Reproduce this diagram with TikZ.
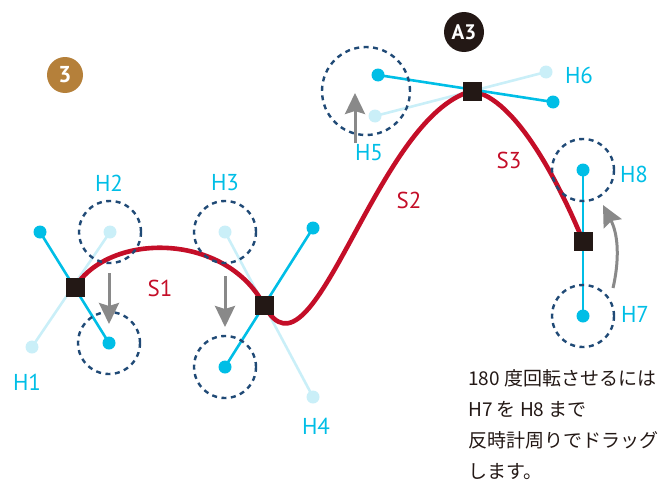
\documentclass[tikz,border=0pt]{standalone}
\usepackage{fontspec}
\setmainfont{PT Sans}
\newfontfamily\jpfont{Noto Sans CJK JP}
\usetikzlibrary{arrows.meta}
\definecolor{handlecyan}{RGB}{0,190,230}
\definecolor{handlepale}{RGB}{202,239,248}
\definecolor{curvered}{RGB}{196,14,40}
\definecolor{ringblue}{RGB}{32,74,118}
\definecolor{draggray}{RGB}{137,137,137}
\definecolor{badgebrown}{RGB}{181,128,58}
\definecolor{inkblack}{RGB}{35,24,21}
\tikzset{
    handle/.style={line width=2.6pt,handlecyan},
    oldhandle/.style={line width=2.6pt,handlepale},
    curve/.style={line width=4.6pt,curvered},
    anchorpt/.style={fill=inkblack,inner sep=0pt,minimum size=19pt},
    ring/.style={circle,draw=ringblue,line width=2.4pt,dash pattern=on 5pt off 4.5pt,inner sep=0pt,minimum size=62pt},
    hlabel/.style={text=handlecyan,inner sep=0pt,font=\fontsize{23}{23}\selectfont},
    slabel/.style={text=curvered,inner sep=0pt,font=\fontsize{23}{23}\selectfont},
    drag/.style={draggray,line width=3pt,-{Stealth[length=21pt,width=20pt,inset=3pt]}},
    badge/.style={circle,inner sep=0pt,text=white,font=\bfseries\fontsize{21}{21}\selectfont},
}
\begin{document}
\begin{tikzpicture}[x=1pt,y=-1pt]
    \useasboundingbox (0,0) rectangle (660,487);
    \coordinate (a1) at (75,287);
    \coordinate (a2) at (264,305);
    \coordinate (a3) at (472,91);
    \coordinate (a4) at (583,241);
    \coordinate (h1old) at (32,347);
    \coordinate (h2old) at (110,232);
    \coordinate (h3old) at (225,232);
    \coordinate (h4old) at (313,397);
    \coordinate (h5old) at (375,116);
    \coordinate (h6old) at (546,72);
    \coordinate (h1new) at (40,232);
    \coordinate (h2new) at (109,343);
    \coordinate (h3new) at (225,367);
    \coordinate (h4new) at (313,228);
    \coordinate (h5new) at (378,75);
    \coordinate (h6new) at (553,102);
    \coordinate (h7) at (583,316);
    \coordinate (h8) at (583,170);
    \draw[oldhandle] (h1old) -- (h2old);
    \draw[oldhandle] (h3old) -- (h4old);
    \draw[oldhandle] (h5old) -- (h6old);
    \foreach \k in {h1old,h2old,h3old,h4old,h5old,h6old}{
        \fill[handlepale] (\k) circle[radius=6.5pt];
    }
    \draw[curve] (a1) .. controls (h2old) and (h3old) .. (a2)
        .. controls (h4old) and (h5old) .. (a3)
        .. controls (516,98) and (560,185) .. (a4);
    \draw[handle] (h1new) -- (h2new);
    \draw[handle] (h3new) -- (h4new);
    \draw[handle] (h5new) -- (h6new);
    \draw[handle] (h8) -- (h7);
    \foreach \k in {h1new,h2new,h3new,h4new,h5new,h6new,h7,h8}{
        \fill[handlecyan] (\k) circle[radius=6.5pt];
    }
    \foreach \a in {a1,a2,a3,a4}{
        \node[anchorpt] (sq-\a) at (\a) {};
    }
    \node[ring] (r2old) at (h2old) {};
    \node[ring] (r2new) at (h2new) {};
    \node[ring] (r3old) at (h3old) {};
    \node[ring] (r3new) at (h3new) {};
    \node[ring,minimum size=88pt] (r5) at (366,91) {};
    \node[ring] (r8) at (h8) {};
    \node[ring] (r7) at (h7) {};
    \coordinate (d2from) at (109,273);
    \coordinate (d2to) at (109,324);
    \coordinate (d3from) at (225,276);
    \coordinate (d3to) at (225,327);
    \coordinate (d5from) at (355,143);
    \coordinate (d5to) at (355,93);
    \coordinate (d7from) at (613,288);
    \coordinate (d7to) at (603,205);
    \draw[drag] (d2from) -- (d2to);
    \draw[drag] (d3from) -- (d3to);
    \draw[drag] (d5from) -- (d5to);
    \draw[drag] (d7from) .. controls (619,262) and (619,236) .. (d7to);
    \node[hlabel] (l1) at (27,382) {H1};
    \node[hlabel] (l2) at (109,183) {H2};
    \node[hlabel] (l3) at (225,183) {H3};
    \node[hlabel] (l4) at (316,426) {H4};
    \node[hlabel] (l5) at (369,153) {H5};
    \node[hlabel] (l6) at (579,75) {H6};
    \node[hlabel] (l7) at (635,314) {H7};
    \node[hlabel] (l8) at (634,174) {H8};
    \node[slabel] (s1) at (160,288) {S1};
    \node[slabel] (s2) at (409,200) {S2};
    \node[slabel] (s3) at (509,160) {S3};
    \node[badge,fill=inkblack,minimum size=40pt] (stepA) at (464,32) {A3};
    \node[badge,fill=badgebrown,minimum size=36pt,font=\bfseries\fontsize{23}{23}\selectfont] (stepnum) at (65,75) {3};
    \node[anchor=north west,inner sep=0pt,align=left,text=inkblack,font=\jpfont\fontsize{19}{31}\selectfont] (note) at (468,369)
        {180 度回転させるには\\H7 を H8 まで\\反時計周りでドラッグ\\します。};
\end{tikzpicture}
\end{document}
